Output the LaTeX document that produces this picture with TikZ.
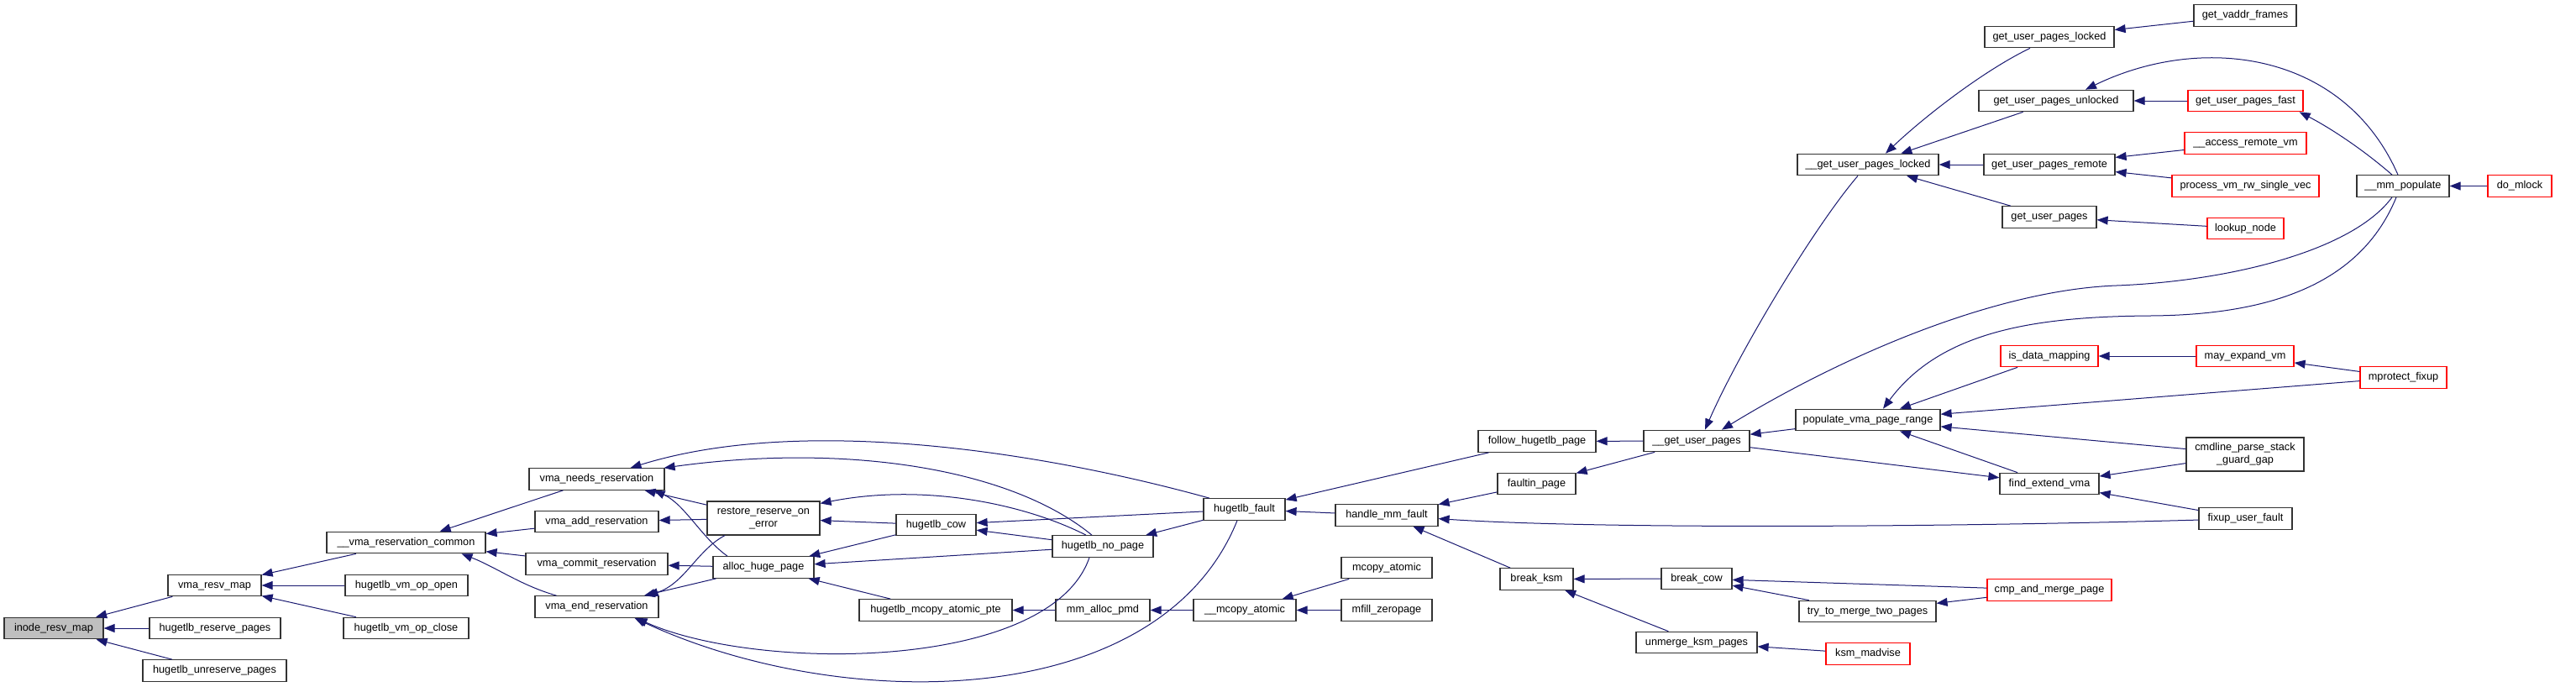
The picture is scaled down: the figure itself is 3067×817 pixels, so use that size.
\documentclass[tikz,border=0pt]{standalone}
\usepackage{fontspec}
\setmainfont{Liberation Sans}
\usetikzlibrary{arrows.meta}
\definecolor{edgeblue}{HTML}{191970}
\definecolor{rootgray}{HTML}{BFBFBF}
\begin{document}
\begin{tikzpicture}[x=1pt,y=-1pt,
  boxbase/.style={draw=black!80, line width=1.2pt, fill=white, rectangle, inner sep=0pt,
    minimum height=25.5pt, font=\fontsize{12.7}{15}\selectfont, align=center},
  box/.style={boxbase, text height=9.2pt, text depth=2.8pt},
  rbox/.style={box, draw=red},
  box2/.style={boxbase, minimum height=40pt},
  call/.style={draw=edgeblue, line width=1pt, -{Triangle[length=13pt,width=10pt]}}]
\path[use as bounding box] (0,0) rectangle (3067,817);

\node[box,fill=rootgray,minimum width=118pt] (inode) at (64,748) {inode\_resv\_map};
\node[box,minimum width=111pt] (vmaresv) at (255.5,697) {vma\_resv\_map};
\node[box,minimum width=156pt] (hreserve) at (256,748) {hugetlb\_reserve\_pages};
\node[box,minimum width=171pt] (hunres) at (255.5,798.5) {hugetlb\_unreserve\_pages};
\node[box,minimum width=189pt] (vcommon) at (483.5,646) {\_\_vma\_reservation\_common};
\node[box,minimum width=146pt] (opopen) at (484,697) {hugetlb\_vm\_op\_open};
\node[box,minimum width=149pt] (opclose) at (483.5,748) {hugetlb\_vm\_op\_close};
\node[box,minimum width=161pt] (needs) at (710.5,570.5) {vma\_needs\_reservation};
\node[box,minimum width=147pt] (vadd) at (710.5,621) {vma\_add\_reservation};
\node[box,minimum width=169pt] (commit) at (710.5,671.5) {vma\_commit\_reservation};
\node[box,minimum width=147pt] (endres) at (710.5,722.5) {vma\_end\_reservation};
\node[box2,minimum width=134pt] (restore) at (909,617) {restore\_reserve\_on\\\_error};
\node[box,minimum width=120pt] (alloc) at (909,675.5) {alloc\_huge\_page};
\node[box,minimum width=95pt] (cow) at (1114.5,625) {hugetlb\_cow};
\node[box,minimum width=120pt] (nopage) at (1313,650.5) {hugetlb\_no\_page};
\node[box,minimum width=97pt] (fault) at (1481.5,606.5) {hugetlb\_fault};
\node[box,minimum width=182pt] (mcpte) at (1114,726.5) {hugetlb\_mcopy\_atomic\_pte};
\node[box,minimum width=112pt] (pmd) at (1313,726.5) {mm\_alloc\_pmd};
\node[box,minimum width=122pt] (mcat) at (1482,726.5) {\_\_mcopy\_atomic};
\node[box,minimum width=140pt] (follow) at (1830,525.5) {follow\_hugetlb\_page};
\node[box,minimum width=93pt] (faultin) at (1829.5,576) {faultin\_page};
\node[box,minimum width=122pt] (handle) at (1651,613.5) {handle\_mm\_fault};
\node[box,minimum width=108pt] (mcopy) at (1651,676) {mcopy\_atomic};
\node[box,minimum width=108pt] (mfill) at (1651,726.5) {mfill\_zeropage};
\node[box,minimum width=87pt] (bksm) at (1829.5,689.5) {break\_ksm};
\node[box,minimum width=84pt] (bcow) at (2020,689) {break\_cow};
\node[box,minimum width=144pt] (unmerge) at (2020,765) {unmerge\_ksm\_pages};
\node[box,minimum width=154pt] (gupl) at (2440,44) {get\_user\_pages\_locked};
\node[box,minimum width=184pt] (gupu) at (2448,120) {get\_user\_pages\_unlocked};
\node[box,minimum width=168pt] (ugupl) at (2224,196) {\_\_get\_user\_pages\_locked};
\node[box,minimum width=156pt] (gupr) at (2440,196) {get\_user\_pages\_remote};
\node[box,minimum width=112pt] (gup) at (2440,258.5) {get\_user\_pages};
\node[box,minimum width=126pt] (ugup) at (2020,525) {\_\_get\_user\_pages};
\node[rbox,minimum width=116pt] (isdata) at (2440,424) {is\_data\_mapping};
\node[box,minimum width=172pt] (populate) at (2224,500) {populate\_vma\_page\_range};
\node[box,minimum width=118pt] (findext) at (2440,576) {find\_extend\_vma};
\node[rbox,minimum width=148pt] (cmpmerge) at (2440,702.5) {cmp\_and\_merge\_page};
\node[box,minimum width=163pt] (trymerge) at (2223.5,728) {try\_to\_merge\_two\_pages};
\node[rbox,minimum width=100pt] (ksmmadv) at (2224,778.5) {ksm\_madvise};
\node[box,minimum width=122pt] (vaddr) at (2673,18.5) {get\_vaddr\_frames};
\node[rbox,minimum width=137pt] (gupfast) at (2673.5,120) {get\_user\_pages\_fast};
\node[rbox,minimum width=145pt] (access) at (2673.5,170.5) {\_\_access\_remote\_vm};
\node[rbox,minimum width=175pt] (procvm) at (2673.5,221.5) {process\_vm\_rw\_single\_vec};
\node[rbox,minimum width=91pt] (lookup) at (2673.5,272) {lookup\_node};
\node[box,minimum width=110pt] (mmpop) at (2861,221.5) {\_\_mm\_populate};
\node[rbox,minimum width=76pt] (domlock) at (3000,221.5) {do\_mlock};
\node[rbox,minimum width=116pt] (mayexp) at (2673,424) {may\_expand\_vm};
\node[rbox,minimum width=103pt] (mprotect) at (2861.5,449.5) {mprotect\_fixup};
\node[box2,minimum width=140pt] (cmdline) at (2673,541) {cmdline\_parse\_stack\\\_guard\_gap};
\node[box,minimum width=111pt] (fixup) at (2673.5,617.5) {fixup\_user\_fault};

% edges: caller -> callee (arrow at callee)
\draw[call] (vmaresv) -- (inode);
\draw[call] (hreserve) -- (inode);
\draw[call] (hunres) -- (inode);
\draw[call] (vcommon) -- (vmaresv);
\draw[call] (opopen) -- (vmaresv);
\draw[call] (opclose) -- (vmaresv);
\draw[call] (needs) -- (vcommon);
\draw[call] (vadd) -- (vcommon);
\draw[call] (commit) -- (vcommon);
\draw[call] ([xshift=-48pt]endres.north) .. controls (620,697) and (590,675) .. ([xshift=66pt]vcommon.south);
\draw[call] ([xshift=-41.5pt]fault.north) .. controls (1230,535) and (950,495) .. ([xshift=40pt]needs.north);
\draw[call] ([xshift=-13pt]nopage.north) .. controls (1200,555) and (1000,528) .. ([xshift=-1pt]needs.north east);
\draw[call] (restore) -- (needs);
\draw[call] ([xshift=-43pt]alloc.north) .. controls (835,640) and (815,600) .. ([xshift=-13pt]needs.south east);
\draw[call] (restore) -- (vadd);
\draw[call] (alloc) -- (commit);
\draw[call] ([xshift=-46pt]restore.south) .. controls (830,655) and (815,695) .. ([xshift=-14pt]endres.north east);
\draw[call] (alloc) -- (endres);
\draw[call] ([xshift=-16pt]nopage.south) .. controls (1250,800) and (900,800) .. ([xshift=47pt]endres.south);
\draw[call] ([xshift=-8.5pt]fault.south) .. controls (1380,850) and (1000,850) .. ([xshift=45pt]endres.south);
\draw[call] (cow) -- (restore);
\draw[call] ([xshift=-20pt]nopage.north) .. controls (1220,600) and (1100,575) .. ([yshift=-3pt]restore.north east);
\draw[call] (cow) -- (alloc);
\draw[call] (nopage) -- (alloc);
\draw[call] (mcpte) -- (alloc);
\draw[call] (fault) -- (cow);
\draw[call] (nopage) -- (cow);
\draw[call] (fault) -- (nopage);
\draw[call] (pmd) -- (mcpte);
\draw[call] (mcat) -- (pmd);
\draw[call] (mcopy) -- (mcat);
\draw[call] (mfill) -- (mcat);
\draw[call] (follow) -- (fault);
\draw[call] (handle) -- (fault);
\draw[call] (faultin) -- (handle);
\draw[call] (fixup) .. controls (2300,628) and (1900,630) .. (handle);
\draw[call] (bksm) -- (handle);
\draw[call] (ugup) -- (follow);
\draw[call] (ugup) -- (faultin);
\draw[call] (bcow) -- (bksm);
\draw[call] (unmerge) -- (bksm);
\draw[call] (cmpmerge) -- (bcow);
\draw[call] (trymerge) -- (bcow);
\draw[call] (cmpmerge) -- (trymerge);
\draw[call] (ksmmadv) -- (unmerge);
\draw[call] ([xshift=-12pt]ugupl.south) .. controls (2160,270) and (2070,420) .. ([xshift=10pt]ugup.north);
\draw[call] ([xshift=-13pt]mmpop.south) .. controls (2800,300) and (2650,335) .. (2520,340) .. controls (2380,345) and (2200,420) .. ([xshift=30pt]ugup.north);
\draw[call] ([xshift=-8pt]mmpop.south) .. controls (2810,340) and (2700,375) .. (2560,376) .. controls (2420,377) and (2310,395) .. ([xshift=18pt]populate.north);
\draw[call] ([xshift=-23pt]gupl.south) .. controls (2360,85) and (2290,140) .. ([xshift=21pt]ugupl.north);
\draw[call] (gupu) -- (ugupl);
\draw[call] (gupr) -- (ugupl);
\draw[call] (gup) -- (ugupl);
\draw[call] (vaddr) -- (gupl);
\draw[call] (gupfast) -- (gupu);
\draw[call] ([xshift=-6pt]mmpop.north) .. controls (2790,60) and (2620,40) .. ([xshift=35pt]gupu.north);
\draw[call] (access) -- (gupr);
\draw[call] (procvm) -- (gupr);
\draw[call] (lookup) -- (gup);
\draw[call] ([xshift=-13pt]mmpop.north) .. controls (2810,175) and (2770,150) .. ([xshift=-5pt]gupfast.south east);
\draw[call] (domlock) -- (mmpop);
\draw[call] (populate) -- (ugup);
\draw[call] (ugup) -- (findext);
\draw[call] (isdata) -- (populate);
\draw[call] (findext) -- (populate);
\draw[call] (mprotect) -- (populate);
\draw[call] (cmdline) -- (populate);
\draw[call] (mayexp) -- (isdata);
\draw[call] (mprotect) -- (mayexp);
\draw[call] (cmdline) -- (findext);
\draw[call] (fixup) -- (findext);
\end{tikzpicture}
\end{document}
